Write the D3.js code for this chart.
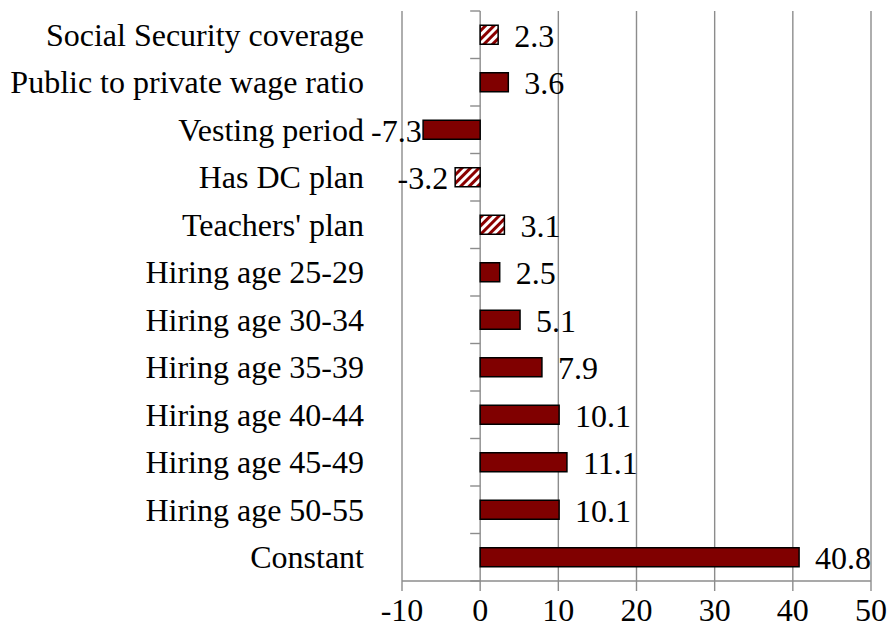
<!DOCTYPE html>
<html lang="en">

<head>
    <meta charset="UTF-8">
    <title>Regression coefficients</title>
    <style>
        body {
            margin: 0;
            background: #fff;
        }

        text {
            font-family: "Liberation Serif", "Times New Roman", serif;
            font-size: 32px;
            fill: #000;
        }

        .grid line {
            stroke: #8c8c8c;
            stroke-width: 1.4;
        }

        .bar {
            stroke: #000;
            stroke-width: 1.5;
        }
    </style>
</head>

<body>
    <script src="https://d3js.org/d3.v7.min.js"></script>
    <script>
        var width = 890;
        var height = 635;

        // categories from top to bottom
        var categories = ['Social Security coverage', 'Public to private wage ratio', 'Vesting period',
            'Has DC plan', "Teachers' plan", 'Hiring age 25-29', 'Hiring age 30-34', 'Hiring age 35-39',
            'Hiring age 40-44', 'Hiring age 45-49', 'Hiring age 50-55', 'Constant'];
        var values = [2.3, 3.6, -7.3, -3.2, 3.1, 2.5, 5.1, 7.9, 10.1, 11.1, 10.1, 40.8];
        // coefficients shown with the striped fill
        var insignificant = ['Social Security coverage', 'Has DC plan', "Teachers' plan"];
        var xTicks = [-10, 0, 10, 20, 30, 40, 50];

        var plot = { left: 402, right: 871, top: 11, bottom: 581 };

        var svg = d3.select('body').append('svg').attr('width', width).attr('height', height);

        // striped fill
        var pattern = svg.append('defs').append('pattern')
            .attr('id', 'stripes')
            .attr('patternUnits', 'userSpaceOnUse')
            .attr('width', 6).attr('height', 6)
            .attr('patternTransform', 'rotate(45)');
        pattern.append('rect').attr('width', 6).attr('height', 6).attr('fill', '#fff');
        pattern.append('rect').attr('width', 3).attr('height', 6).attr('fill', '#8b0000');

        var xScale = d3.scaleLinear()
            .domain([d3.min(xTicks), d3.max(xTicks)])
            .range([plot.left, plot.right]);
        var yScale = d3.scaleBand()
            .domain(categories)
            .range([plot.top, plot.bottom])
            .paddingInner(0.6)
            .paddingOuter(0.3);

        // vertical gridlines (reach a little below the axis as tick marks)
        svg.append('g').attr('class', 'grid')
            .selectAll('line')
            .data(xTicks)
            .enter()
            .append('line')
            .attr('x1', function (d) { return xScale(d); })
            .attr('x2', function (d) { return xScale(d); })
            .attr('y1', plot.top)
            .attr('y2', plot.bottom + 10);

        // bottom axis line
        svg.append('g').attr('class', 'grid').append('line')
            .attr('x1', plot.left).attr('x2', plot.right)
            .attr('y1', plot.bottom).attr('y2', plot.bottom);

        // category axis at zero, ticks between categories
        var step = yScale.step();
        var bounds = d3.range(0, categories.length + 1).map(function (i) { return plot.top + i * step; });
        svg.append('g').attr('class', 'grid')
            .selectAll('line')
            .data(bounds)
            .enter()
            .append('line')
            .attr('x1', xScale(0) - 10)
            .attr('x2', xScale(0))
            .attr('y1', function (d) { return d; })
            .attr('y2', function (d) { return d; });

        // bars
        svg.selectAll('.bar')
            .data(values)
            .enter()
            .append('rect')
            .attr('class', 'bar')
            .attr('x', function (d) { return xScale(Math.min(0, d)); })
            .attr('y', function (d, i) { return yScale(categories[i]); })
            .attr('width', function (d) { return Math.abs(xScale(d) - xScale(0)); })
            .attr('height', yScale.bandwidth())
            .attr('fill', function (d, i) {
                return insignificant.indexOf(categories[i]) >= 0 ? 'url(#stripes)' : '#800000';
            });

        // category labels
        svg.selectAll('.cat')
            .data(categories)
            .enter()
            .append('text')
            .attr('class', 'cat')
            .attr('x', 364)
            .attr('y', function (d) { return yScale(d) + yScale.bandwidth() / 2; })
            .attr('dy', 11)
            .attr('text-anchor', 'end')
            .text(function (d) { return d; });

        // value labels
        svg.selectAll('.val')
            .data(values)
            .enter()
            .append('text')
            .attr('class', 'val')
            .attr('y', function (d, i) { return yScale(categories[i]) + yScale.bandwidth() / 2; })
            .attr('dy', 12)
            .attr('text-anchor', function (d) { return d < 0 ? 'end' : 'start'; })
            .text(function (d) { return d.toFixed(1); })
            .attr('x', function (d) {
                if (d >= 0) return xScale(d) + 16;
                var w = this.getComputedTextLength();
                return Math.max(xScale(d) - 7, 371 + w);
            });

        // x tick labels
        svg.selectAll('.tick-label')
            .data(xTicks)
            .enter()
            .append('text')
            .attr('class', 'tick-label')
            .attr('x', function (d) { return xScale(d); })
            .attr('y', 621)
            .attr('text-anchor', 'middle')
            .text(function (d) { return d; });
    </script>
</body>

</html>
